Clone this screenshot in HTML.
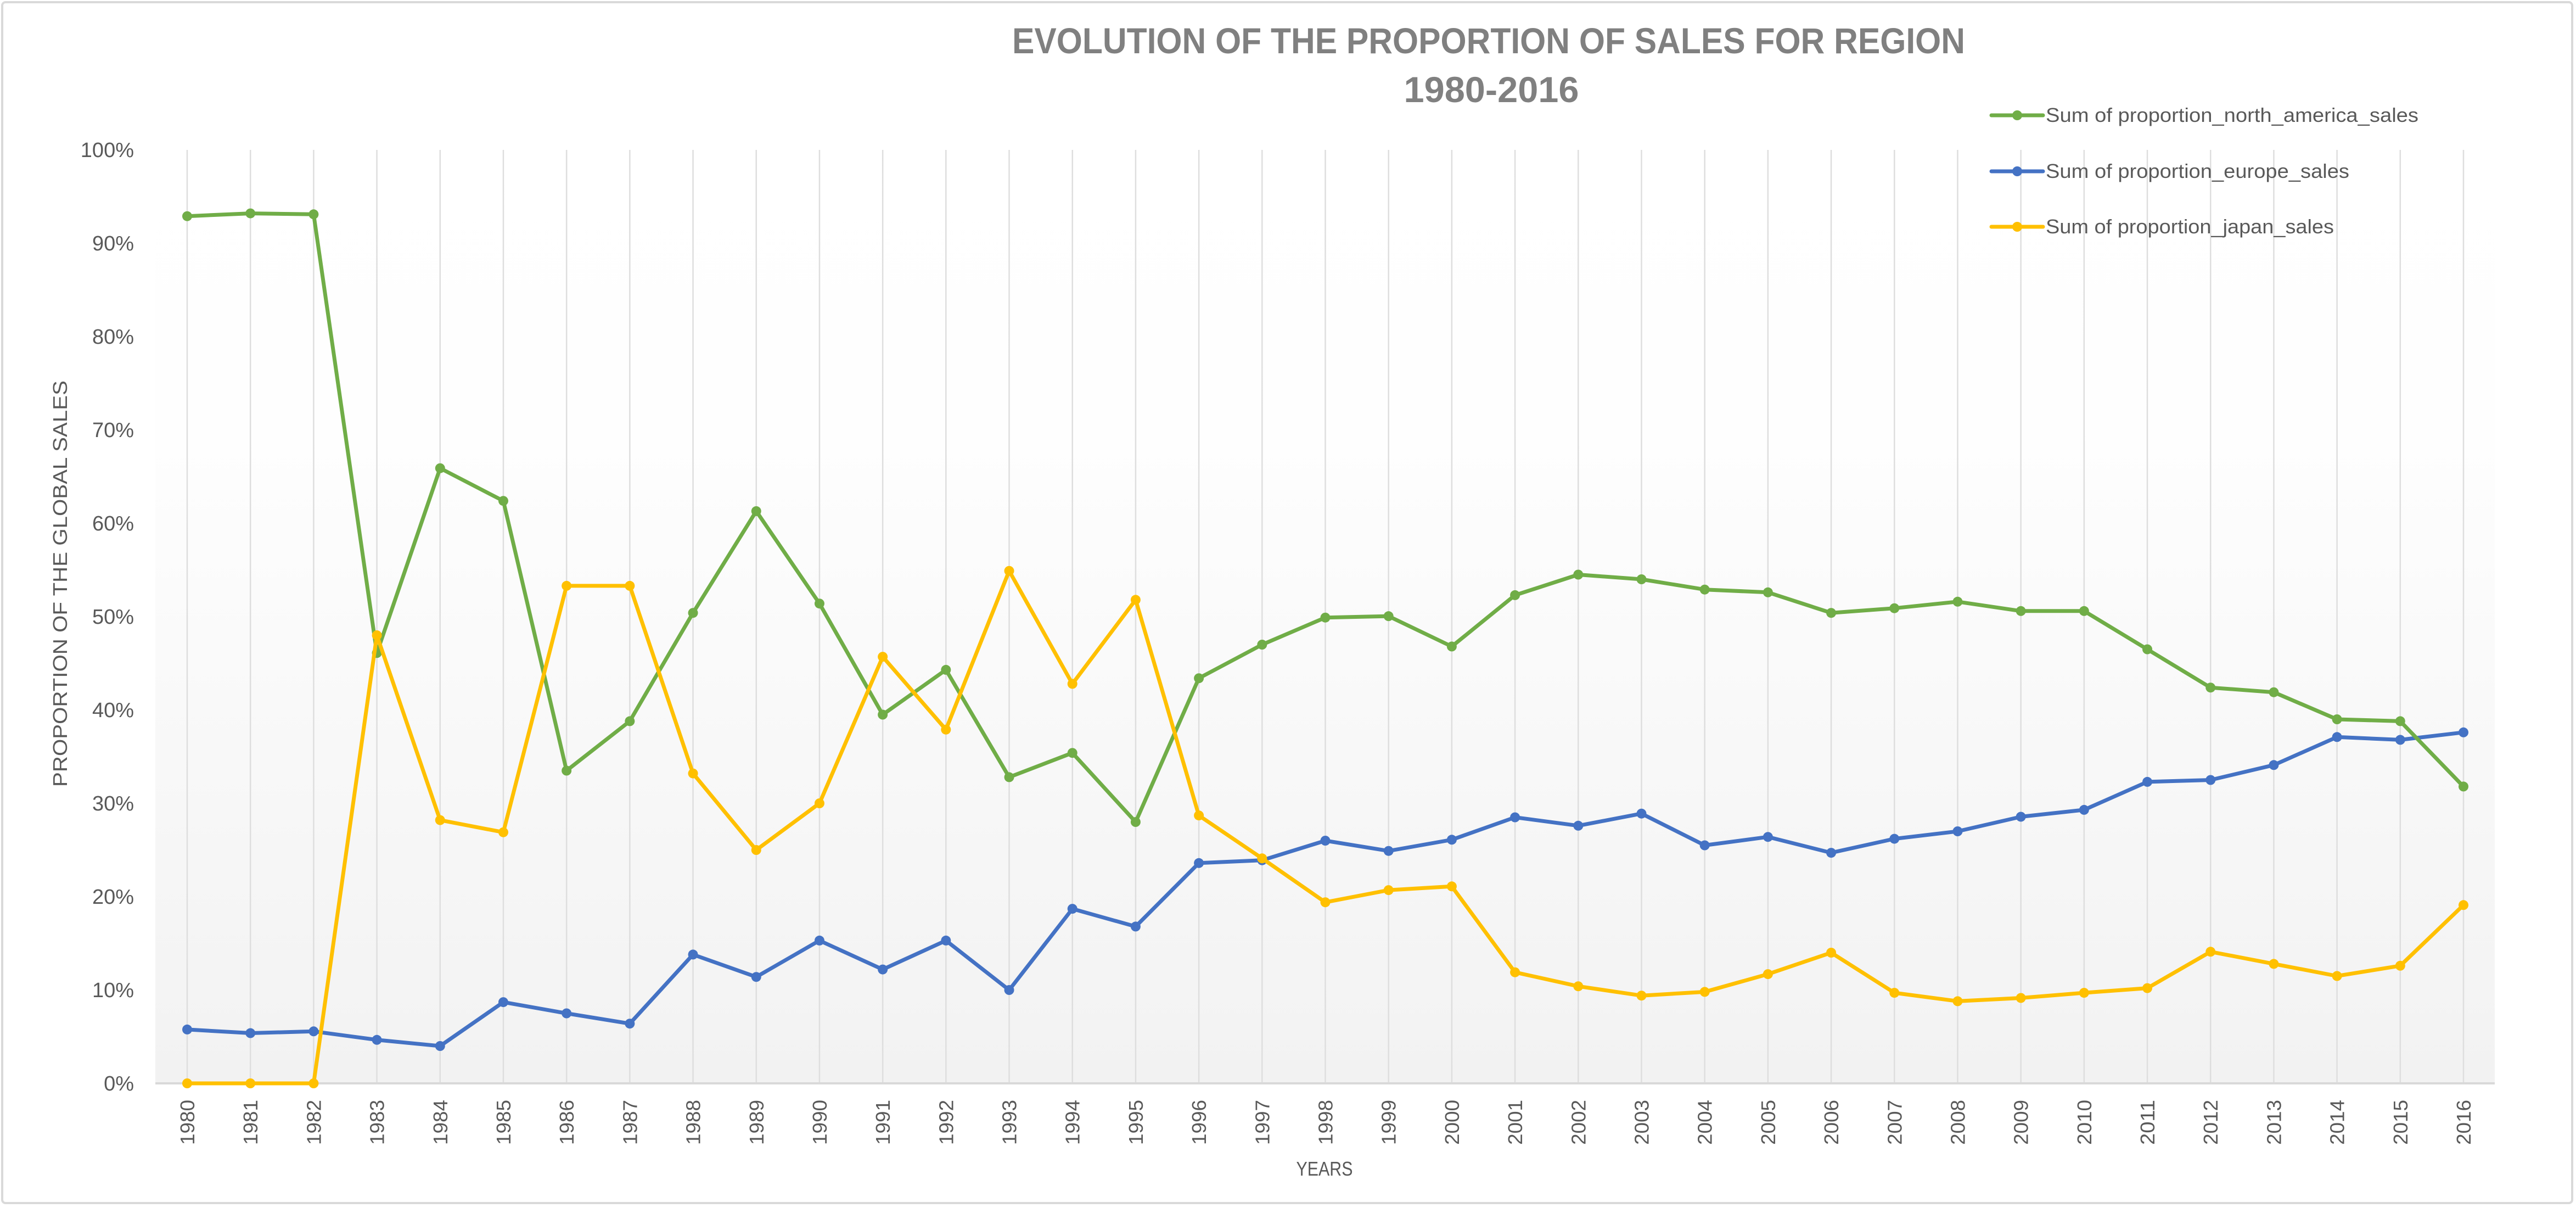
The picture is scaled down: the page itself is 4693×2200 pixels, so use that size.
<!DOCTYPE html>
<html><head><meta charset="utf-8">
<style>
html,body{margin:0;padding:0;background:#fff;}
svg{display:block;}
text{font-family:"Liberation Sans Narrow","Liberation Sans",sans-serif;}
</style></head>
<body>
<svg id="chart" width="4693" height="2200" viewBox="0 0 4693 2200" xmlns="http://www.w3.org/2000/svg">
<defs>
<linearGradient id="bg" x1="0" y1="0" x2="0" y2="1">
<stop offset="0" stop-color="#ffffff"/>
<stop offset="0.3" stop-color="#fefefe"/>
<stop offset="1" stop-color="#f2f2f2"/>
</linearGradient>
</defs>
<rect x="4" y="4" width="4682" height="2187" rx="6" fill="#fff" stroke="#d9d9d9" stroke-width="4"/>
<rect x="283" y="273" width="4262" height="1700" fill="url(#bg)"/>
<g id="grid"></g>
<line x1="283" y1="1973" x2="4545" y2="1973" stroke="#d9d9d9" stroke-width="4"/>
<g id="yticks"></g>
<g id="xticks"></g>
<g id="series"></g>
<text x="2712" y="97" text-anchor="middle" font-size="66" font-weight="bold" fill="#808080" textLength="1736" lengthAdjust="spacingAndGlyphs">EVOLUTION OF THE PROPORTION OF SALES FOR REGION</text>
<text x="2717" y="186" text-anchor="middle" font-size="66" font-weight="bold" fill="#808080" textLength="319" lengthAdjust="spacingAndGlyphs">1980-2016</text>
<text transform="translate(122,1063) rotate(-90)" text-anchor="middle" font-size="36" fill="#595959" textLength="740" lengthAdjust="spacingAndGlyphs">PROPORTION OF THE GLOBAL SALES</text>
<text x="2413" y="2141" text-anchor="middle" font-size="36" fill="#595959" textLength="103" lengthAdjust="spacingAndGlyphs">YEARS</text>
<g id="legend"></g>
</svg>
<script>
const years = [1980,1981,1982,1983,1984,1985,1986,1987,1988,1989,1990,1991,1992,1993,1994,1995,1996,1997,1998,1999,2000,2001,2002,2003,2004,2005,2006,2007,2008,2009,2010,2011,2012,2013,2014,2015,2016];
const northAmerica = [92.9,93.2,93.1,46.1,65.9,62.4,33.5,38.8,50.4,61.3,51.4,39.5,44.3,32.8,35.4,28.0,43.4,47.0,49.9,50.05,46.8,52.3,54.5,54.0,52.9,52.6,50.4,50.9,51.6,50.6,50.6,46.5,42.4,41.9,39.0,38.8,31.8];
const europe = [5.77,5.38,5.57,4.66,4.0,8.7,7.5,6.4,13.8,11.4,15.3,12.2,15.3,10.0,18.7,16.8,23.6,23.9,26.0,24.9,26.1,28.5,27.6,28.9,25.5,26.4,24.7,26.2,27.0,28.56,29.3,32.3,32.5,34.1,37.1,36.8,37.6];
const japan = [0,0,0,48.0,28.2,26.9,53.3,53.3,33.2,25.0,30.0,45.7,37.9,54.9,42.8,51.8,28.7,24.1,19.4,20.7,21.1,11.9,10.4,9.4,9.8,11.7,14.0,9.7,8.8,9.15,9.7,10.2,14.1,12.8,11.5,12.6,19.1];
const yTicks = [0,10,20,30,40,50,60,70,80,90,100];
const seriesNames = ["Sum of proportion_north_america_sales","Sum of proportion_europe_sales","Sum of proportion_japan_sales"];

const NS = "http://www.w3.org/2000/svg";
const X0 = 341, XSTEP = (4488-341)/36, Y0 = 1973, YSCALE = 17;
function xPos(i){ return X0 + i*XSTEP; }
function yPos(v){ return Y0 - v*YSCALE; }
function mk(tag, attrs, parent){
  const e = document.createElementNS(NS, tag);
  for (const k in attrs) e.setAttribute(k, attrs[k]);
  parent.appendChild(e); return e;
}
const grid = document.getElementById('grid');
const xt = document.getElementById('xticks');
years.forEach((yr,i)=>{
  const l = mk('line',{x1:xPos(i),x2:xPos(i),y1:273,y2:Y0,stroke:'#dedede','stroke-width':2.5},grid);
  
  
  const t = mk('text',{transform:`translate(${xPos(i)+13},2003) rotate(-90)`,'text-anchor':'end','font-size':36,fill:'#595959',textLength:82,lengthAdjust:'spacingAndGlyphs'},xt);
  t.textContent = yr;
  
  
});
const yt = document.getElementById('yticks');
yTicks.forEach(v=>{
  const t = mk('text',{x:244,y:yPos(v)+13,'text-anchor':'end','font-size':38,fill:'#595959'},yt);
  t.textContent = v+'%';
  
  
});
const series = document.getElementById('series');
const data = [northAmerica, europe, japan];
const colors = ['#70ad47','#4472c4','#ffc000'];
const keys = ['north-america','europe','japan'];
[1,0,2].forEach(s=>{
  const g = mk('g',{},series);
  
  
  const pts = data[s].map((v,i)=>xPos(i)+','+yPos(v)).join(' ');
  const pl = mk('polyline',{points:pts,fill:'none',stroke:colors[s],'stroke-width':7,'stroke-linejoin':'round'},g);
  
  
  data[s].forEach((v,i)=>{
    const c = mk('circle',{cx:xPos(i),cy:yPos(v),r:9,fill:colors[s]},g);
    
    
  });
});
const lg = document.getElementById('legend');
const legY = [210,312,413];
const legW = [679,553,525];
seriesNames.forEach((n,s)=>{
  const g = mk('g',{},lg);
  
  
  mk('line',{x1:3628,x2:3722,y1:legY[s],y2:legY[s],stroke:colors[s],'stroke-width':7,'stroke-linecap':'round'},g);
  mk('circle',{cx:3675,cy:legY[s],r:9,fill:colors[s]},g);
  const t = mk('text',{x:3727,y:legY[s]+12,'font-size':36,fill:'#595959',textLength:legW[s],lengthAdjust:'spacingAndGlyphs'},g);
  t.textContent = n;
});
</script>
</body></html>
